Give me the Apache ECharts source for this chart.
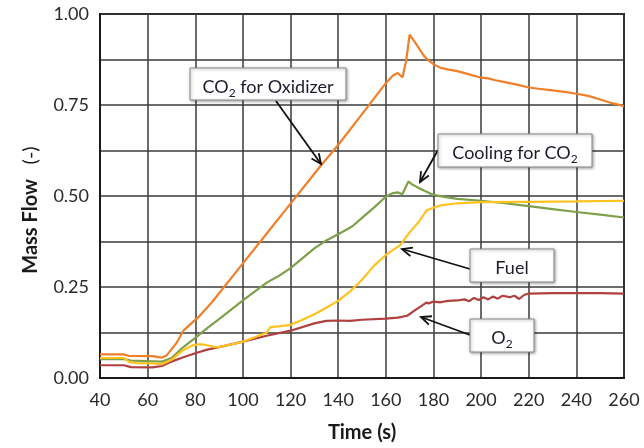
<!DOCTYPE html>
<html>
<head>
<meta charset="utf-8">
<script src="https://cdn.jsdelivr.net/npm/echarts@6/dist/echarts.min.js"></script>
<style>
html,body{margin:0;padding:0;background:#fff;}
#chart{width:644px;height:448px;}
</style>
</head>
<body>
<div id="chart"></div>
<script>
// ---- Data ----
const xTicks = [40, 60, 80, 100, 120, 140, 160, 180, 200, 220, 240, 260];
const yTicks = [0.00, 0.25, 0.50, 0.75, 1.00];

const oxTime = [40,50,52,62,64,66,68,72,75,78,81,87,100,110,120,130,133,140,150,160,163,165,167,168.5,170,172,174,176,178,180,183,186,190,195,200,203,206,210,215,220,225,230,235,240,245,250,255,260];
const oxFlow = [0.065,0.065,0.061,0.060,0.058,0.056,0.062,0.095,0.130,0.148,0.165,0.208,0.315,0.397,0.479,0.561,0.586,0.640,0.725,0.810,0.831,0.838,0.826,0.870,0.943,0.925,0.905,0.885,0.872,0.862,0.852,0.848,0.843,0.834,0.825,0.823,0.818,0.813,0.806,0.798,0.794,0.790,0.786,0.781,0.775,0.765,0.755,0.747];

const coolTime = [40,50,53,62,66,70,75,80,85,90,100,110,115,120,130,135,140,146,150,155,160,163,165,167,168,169.5,171,173,176,180,185,190,200,210,220,230,240,250,260];
const coolFlow = [0.052,0.052,0.048,0.046,0.045,0.055,0.085,0.110,0.137,0.162,0.213,0.262,0.280,0.302,0.356,0.378,0.395,0.417,0.440,0.468,0.498,0.508,0.510,0.505,0.520,0.540,0.532,0.525,0.515,0.503,0.497,0.492,0.487,0.480,0.472,0.464,0.456,0.449,0.441];

const fuelTime = [40,50,52,55,62,66,70,75,79,82,85,89,95,100,105,110,111.5,115,120,125,130,135,140,145,150,155,160,166,170,174,177,180,183,190,200,220,240,260];
const fuelFlow = [0.055,0.055,0.045,0.041,0.040,0.038,0.050,0.077,0.090,0.093,0.090,0.084,0.092,0.100,0.112,0.125,0.140,0.142,0.146,0.160,0.175,0.193,0.212,0.238,0.270,0.308,0.338,0.365,0.400,0.430,0.460,0.468,0.474,0.480,0.483,0.484,0.485,0.487];

const o2Time = [40,50,53,62,66,70,75,80,85,90,100,110,120,130,135,140,145,150,160,165,169,172,175,177,178,180,183,186,190,193,195,197,199,201,203,205,207,209,212,214,216,218,220,230,240,250,260];
const o2Flow = [0.035,0.035,0.030,0.029,0.033,0.045,0.057,0.068,0.078,0.085,0.100,0.116,0.130,0.150,0.157,0.158,0.157,0.160,0.163,0.166,0.171,0.185,0.198,0.207,0.205,0.210,0.208,0.212,0.213,0.216,0.211,0.220,0.214,0.222,0.216,0.224,0.218,0.226,0.222,0.226,0.217,0.228,0.232,0.233,0.233,0.233,0.232];

function pairs(t, v) { return t.map((x, i) => [x, v[i]]); }

const FONT = 'Lato, "Open Sans", sans-serif';

const chart = echarts.init(document.getElementById('chart'), null, {renderer: 'canvas'});

function mkSeries(name, t, v, color) {
  return {
    name: name, type: 'line', data: pairs(t, v), showSymbol: false, symbol: 'none',
    lineStyle: {color: color, width: 2.2}, itemStyle: {color: color},
    z: 5, animation: false
  };
}

// Annotation helpers (layout only, pixel positions)
function arrow(x1, y1, x2, y2) {
  const ang = Math.atan2(y2 - y1, x2 - x1);
  const L = 11, a = 0.42;
  const p1 = [x2 - L * Math.cos(ang - a), y2 - L * Math.sin(ang - a)];
  const p2 = [x2 - L * Math.cos(ang + a), y2 - L * Math.sin(ang + a)];
  return [
    {type: 'line', shape: {x1: x1, y1: y1, x2: x2, y2: y2}, style: {stroke: '#111', lineWidth: 1.8}, z: 20},
    {type: 'polyline', shape: {points: [p1, [x2, y2], p2]}, style: {stroke: '#111', lineWidth: 1.8, fill: null}, z: 20}
  ];
}
function box(x, y, w, h, rich) {
  return [
    {type: 'rect', shape: {x: x, y: y, width: w, height: h},
     style: {fill: '#fff', stroke: '#8a8a8a', lineWidth: 1, shadowBlur: 3, shadowColor: 'rgba(0,0,0,0.35)', shadowOffsetX: 1, shadowOffsetY: 1}, z: 21},
    {type: 'text', x: x + w / 2, y: y + h / 2 + 1,
     style: {text: rich, align: 'center', verticalAlign: 'middle', fill: '#1c1c28',
       font: '18px ' + FONT,
       rich: {
         m: {fontSize: 18, fontFamily: 'Lato', fill: '#1c1c28', lineHeight: 22, verticalAlign: 'bottom'},
         s: {fontSize: 12, fontFamily: 'Lato', fill: '#1c1c28', lineHeight: 15, verticalAlign: 'bottom', padding: [0, 0, -3, 0]}
       }}, z: 22}
  ];
}

const graphics = [].concat(
  arrow(276, 101, 321, 164),
  box(190, 68, 156, 32, '{m|CO}{s|2}{m| for Oxidizer}'),
  arrow(438, 150, 420, 182),
  box(438, 134, 154, 33, '{m|Cooling for CO}{s|2}'),
  arrow(470, 269, 402, 249),
  box(470, 249, 84, 33, '{m|Fuel}'),
  arrow(470, 335, 421, 317),
  box(470, 319, 64, 33, '{m|O}{s|2}')
);

chart.setOption({
  animation: false,
  backgroundColor: '#fff',
  grid: {left: 100, right: 20, top: 14, bottom: 68, show: true, borderColor: '#1a1a1a', borderWidth: 2, backgroundColor: 'transparent'},
  xAxis: {
    type: 'value', min: 40, max: 260, interval: 20,
    name: 'Time (s)', nameLocation: 'middle', nameGap: 45,
    nameTextStyle: {fontFamily: FONT, fontSize: 20, fontWeight: 'bold', color: '#1a1a1a'},
    axisLine: {show: true, lineStyle: {color: '#1a1a1a', width: 2}},
    axisTick: {show: false},
    axisLabel: {fontFamily: FONT, fontSize: 18, color: '#2a2a2a', margin: 13,
      formatter: v => (xTicks.indexOf(v) >= 0 ? String(v) : '')},
    splitLine: {show: true, lineStyle: {color: '#3a3a3a', width: 1.5}}
  },
  yAxis: {
    type: 'value', min: 0, max: 1, interval: 0.125,
    name: '{b|Mass Flow}   {r|(-)}', nameLocation: 'middle', nameGap: 59,
    nameTextStyle: {fontFamily: FONT, fontSize: 20, fontWeight: 'bold', color: '#1a1a1a',
      padding: [0, 28, 0, 0],
      rich: {
        b: {fontFamily: FONT, fontSize: 20, fontWeight: 'bold', color: '#1a1a1a'},
        r: {fontFamily: FONT, fontSize: 20, fontWeight: 'normal', color: '#1a1a1a'}
      }},
    axisLine: {show: true, lineStyle: {color: '#1a1a1a', width: 2}},
    axisTick: {show: false},
    axisLabel: {fontFamily: FONT, fontSize: 18, color: '#2a2a2a', margin: 11,
      formatter: v => {
        const hit = yTicks.find(t => Math.abs(t - v) < 1e-9);
        return hit !== undefined ? hit.toFixed(2) : '';
      }},
    splitLine: {show: true, lineStyle: {color: '#3a3a3a', width: 1.5}}
  },
  series: [
    mkSeries('O2', o2Time, o2Flow, '#B0403F'),
    mkSeries('Cooling for CO2', coolTime, coolFlow, '#7FA04A'),
    mkSeries('Fuel', fuelTime, fuelFlow, '#FFC21F'),
    mkSeries('CO2 for Oxidizer', oxTime, oxFlow, '#F07F2A')
  ],
  graphic: graphics
});
</script>
</body>
</html>
